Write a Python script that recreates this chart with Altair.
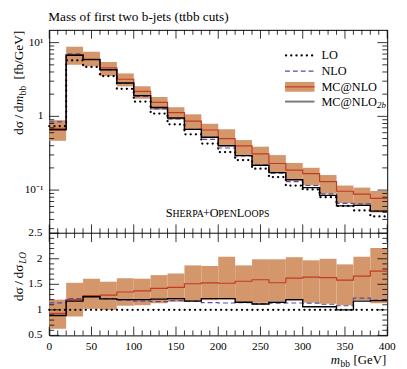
import altair as alt
import pandas as pd

# ---------------- data ----------------
bin_lo = [0, 20, 40, 60, 80, 100, 120, 140, 160, 180, 200, 220, 240, 260, 280, 300, 320, 340, 360, 380]
bin_hi = [20, 40, 60, 80, 100, 120, 140, 160, 180, 200, 220, 240, 260, 280, 300, 320, 340, 360, 380, 400]
lo_xs = [0.74, 5.76, 4.68, 3.52, 2.36, 1.59, 1.09, 0.78, 0.57, 0.427, 0.328, 0.255, 0.195, 0.150, 0.115, 0.102, 0.080, 0.061, 0.053, 0.044]
nlo_xs = [0.840, 7.03, 5.90, 4.29, 2.81, 1.86, 1.264, 0.920, 0.667, 0.487, 0.372, 0.291, 0.218, 0.170, 0.1305, 0.1153, 0.0888, 0.0659, 0.0652, 0.0524]
mcnlo_xs = [0.688, 6.91, 5.99, 4.54, 3.186, 2.178, 1.548, 1.123, 0.861, 0.653, 0.4986, 0.3978, 0.310, 0.2295, 0.1863, 0.1673, 0.1304, 0.0964, 0.0880, 0.0774]
mcnlo_band_lo = [0.466, 5.01, 4.77, 3.52, 2.55, 1.733, 1.232, 0.905, 0.667, 0.508, 0.394, 0.293, 0.222, 0.1755, 0.1357, 0.1163, 0.0896, 0.0665, 0.0631, 0.0497]
mcnlo_band_hi = [0.888, 8.81, 7.53, 5.46, 3.82, 2.56, 1.831, 1.334, 1.066, 0.794, 0.669, 0.477, 0.388, 0.2985, 0.2335, 0.2009, 0.160, 0.1153, 0.1081, 0.0972]
mcnlo2b_xs = [0.659, 6.74, 5.88, 4.28, 2.83, 1.908, 1.319, 0.952, 0.667, 0.521, 0.400, 0.293, 0.2174, 0.1725, 0.138, 0.1081, 0.0848, 0.061, 0.0620, 0.0519]

x_major_ticks = [0, 50, 100, 150, 200, 250, 300, 350, 400]
x_tick_labels = ["0", "50", "100", "150", "200", "250", "300", "350", "400"]
x_minor_ticks = [v for v in range(0, 401, 10) if v % 50 != 0]
log_major_ticks = [0.1, 1, 10]
log_tick_labels = ["10\u207b\u00b9", "1", "10\u00b9"]
log_minor_ticks = [m * 0.01 for m in range(3, 10)] + [m * 0.1 for m in range(2, 10)] + [m * 1.0 for m in range(2, 10)]
ratio_major_ticks = [0.5, 1.0, 1.5, 2.0, 2.5]
ratio_tick_labels = ["0.5", "1", "1.5", "2", "2.5"]
ratio_minor_ticks = [round(0.5 + 0.1 * i, 2) for i in range(21) if i % 5 != 0]

# ---------------- styling ----------------
FONT = "Liberation Serif"
BAND = "#d4976c"
RED = "#c43a22"
PURPLE = "#5d4aa0"
W, HT, HR = 344, 207, 104
H = HT + HR
NB = "\u00a0"
TH = "\u2009"

x_scale = alt.Scale(domain=[0, 400], nice=False, zero=False)
y_top = alt.Scale(type="log", domain=[0.026, 14.9], range=[HT, 0], nice=False)
y_rat = alt.Scale(domain=[0.5, 2.5], range=[H, HT], nice=False, zero=False)

bins = pd.DataFrame({
    "x0": bin_lo, "x1": bin_hi,
    "blo": mcnlo_band_lo, "bhi": mcnlo_band_hi,
})
bins["rblo"] = bins["blo"] / pd.Series(lo_xs)
bins["rbhi"] = bins["bhi"] / pd.Series(lo_xs)

step = pd.DataFrame({
    "x": bin_lo + [bin_hi[-1]],
    "lo": lo_xs + [lo_xs[-1]],
    "nlo": nlo_xs + [nlo_xs[-1]],
    "mc": mcnlo_xs + [mcnlo_xs[-1]],
    "mc2b": mcnlo2b_xs + [mcnlo2b_xs[-1]],
})
for c in ["lo", "nlo", "mc", "mc2b"]:
    step["r_" + c] = step[c] / step["lo"]

one = pd.DataFrame({"a": [0]})
X = lambda f: alt.X(f, scale=x_scale, axis=None)


def line(col, yscale, **style):
    return alt.Chart(step).mark_line(interpolate="step-after", **style).encode(
        x=X("x:Q"), y=alt.Y(col + ":Q", scale=yscale, axis=None))


def xticks(vals, y0, y1):
    return alt.Chart(pd.DataFrame({"v": vals})).mark_rule(color="black", strokeWidth=0.8).encode(
        x=X("v:Q"), y=alt.value(y0), y2=alt.value(y1))


def yticks(vals, yscale, x0, x1):
    return alt.Chart(pd.DataFrame({"v": vals})).mark_rule(color="black", strokeWidth=0.8).encode(
        y=alt.Y("v:Q", scale=yscale, axis=None), x=alt.value(x0), x2=alt.value(x1))


def txt(s, x, y, size=13, angle=0, align="left", baseline="alphabetic", style="normal", color="black"):
    kw = dict(text=s, font=FONT, fontSize=size, align=align, baseline=baseline, fontStyle=style, color=color)
    if angle:
        kw["angle"] = angle
    return alt.Chart(one).mark_text(**kw).encode(x=alt.value(x), y=alt.value(y))


dot_style = dict(color="black", strokeWidth=2.3, strokeDash=[0.1, 5.2], strokeCap="round")
dash_style = dict(color=PURPLE, strokeWidth=1.2, strokeDash=[5, 3])
red_style = dict(color=RED, strokeWidth=1.2)
blk_style = dict(color="black", strokeWidth=1.4)

# ---------------- top panel ----------------
top = alt.layer(
    alt.Chart(bins).mark_rect(color=BAND).encode(
        x=X("x0:Q"), x2="x1:Q", y=alt.Y("blo:Q", scale=y_top, axis=None), y2="bhi:Q"),
    line("mc", y_top, **red_style),
    line("lo", y_top, **dot_style),
    line("nlo", y_top, **dash_style),
    line("mc2b", y_top, **blk_style),
    xticks(x_major_ticks, 0, 9), xticks(x_minor_ticks, 0, 5),
    xticks(x_major_ticks, HT, HT - 9), xticks(x_minor_ticks, HT, HT - 5),
    yticks(log_major_ticks, y_top, 0, 10), yticks(log_minor_ticks, y_top, 0, 5),
    yticks(log_major_ticks, y_top, W, W - 10), yticks(log_minor_ticks, y_top, W, W - 5),
    alt.Chart(pd.DataFrame({"v": log_major_ticks, "t": log_tick_labels})).mark_text(
        font=FONT, fontSize=11.5, align="right", baseline="middle").encode(
        y=alt.Y("v:Q", scale=y_top, axis=None), x=alt.value(-6), text="t:N"),
)

# ---------------- ratio panel ----------------
bot = alt.layer(
    alt.Chart(bins).mark_rect(color=BAND).encode(
        x=X("x0:Q"), x2="x1:Q", y=alt.Y("rblo:Q", scale=y_rat, axis=None), y2="rbhi:Q"),
    line("r_mc", y_rat, **red_style),
    line("r_lo", y_rat, **dot_style),
    line("r_nlo", y_rat, **dash_style),
    line("r_mc2b", y_rat, **blk_style),
    alt.Chart(pd.DataFrame({"v": [2.5]})).mark_rule(color="black", strokeWidth=1).encode(
        y=alt.Y("v:Q", scale=y_rat, axis=None), x=alt.value(0), x2=alt.value(W)),
    xticks(x_major_ticks, HT, HT + 9), xticks(x_minor_ticks, HT, HT + 5),
    xticks(x_major_ticks, H, H - 9), xticks(x_minor_ticks, H, H - 5),
    yticks(ratio_major_ticks, y_rat, 0, 10), yticks(ratio_minor_ticks, y_rat, 0, 5),
    yticks(ratio_major_ticks, y_rat, W, W - 10), yticks(ratio_minor_ticks, y_rat, W, W - 5),
    alt.Chart(pd.DataFrame({"v": ratio_major_ticks, "t": ratio_tick_labels})).mark_text(
        font=FONT, fontSize=11.5, align="right", baseline="middle").encode(
        y=alt.Y("v:Q", scale=y_rat, axis=None), x=alt.value(-7), text="t:N"),
)

# ---------------- texts, legend ----------------
misc = [
    alt.Chart(pd.DataFrame({"v": x_major_ticks, "t": x_tick_labels})).mark_text(
        font=FONT, fontSize=11.5, align="center", baseline="alphabetic").encode(
        x=X("v:Q"), y=alt.value(326), text="t:N"),
    txt("Mass of first two b-jets (ttbb cuts)", -1, -9, size=13.5),
]

# y title (rotated, pieces with subscript); align right = top end
YT = 1
misc += [
    txt(NB + "[fb/GeV]", -27, YT, size=13.5, angle=270, align="right"),
    txt("bb", -24, YT + 56, size=9.5, angle=270, align="right"),
    txt("m", -27, YT + 66, size=13.5, angle=270, align="right", style="italic"),
    txt("d\u03c3" + TH + "/" + TH + "d", -27, YT + 76, size=13.5, angle=270, align="right"),
]
RT = 226
misc += [
    txt("LO", -24, RT, size=9.5, angle=270, align="right", style="italic"),
    txt("d\u03c3" + TH + "/" + TH + "d\u03c3", -27, RT + 13, size=13.5, angle=270, align="right"),
]
# x title (right aligned at the frame's right end)
XR = 343
misc += [
    txt(NB + "[GeV]", XR, 340, size=13, align="right"),
    txt("bb", XR - 37, 343, size=9.5, align="right"),
    txt("m", XR - 47, 340, size=13, align="right", style="italic"),
]

# Sherpa+OpenLoops in small caps
em = {"S": .556, "H": .722, "E": .611, "R": .667, "P": .556, "A": .722, "+": .564, "O": .722, "N": .722, "L": .611}
pieces = [("S", 12.5, 0), ("HERPA", 10, -1.8), ("+O", 12.5, -0.5), ("PEN", 10, 0), ("L", 12.5, 0), ("OOPS", 10, 0)]
px = 118.5
for s, sz, adj in pieces:
    misc.append(txt(s, px, 190.3, size=sz))
    px += sum(em[c] for c in s) * sz + adj

# legend
LX0, LX1, TX = 240, 270, 277
rows = [26, 42, 58, 73]
misc += [
    alt.Chart(one).mark_rule(**dot_style).encode(x=alt.value(LX0 + 1), x2=alt.value(LX1), y=alt.value(rows[0])),
    alt.Chart(one).mark_rule(**dash_style).encode(x=alt.value(LX0), x2=alt.value(LX1), y=alt.value(rows[1])),
    alt.Chart(one).mark_rect(color=BAND).encode(x=alt.value(LX0), x2=alt.value(LX1), y=alt.value(rows[2] - 5), y2=alt.value(rows[2] + 5)),
    alt.Chart(one).mark_rule(**red_style).encode(x=alt.value(LX0), x2=alt.value(LX1), y=alt.value(rows[2])),
    alt.Chart(one).mark_rule(color="#7a7a7a", strokeWidth=2).encode(x=alt.value(LX0), x2=alt.value(LX1), y=alt.value(rows[3])),
    txt("LO", TX, rows[0], size=12.5, baseline="middle"),
    txt("NLO", TX, rows[1], size=12.5, baseline="middle"),
    txt("MC@NLO", TX, rows[2], size=12.5, baseline="middle"),
    txt("MC@NLO", TX, rows[3], size=12.5, baseline="middle"),
    txt("2b", TX + 56.6, rows[3] + 4, size=9, baseline="middle", style="italic"),
]

chart = alt.layer(top, bot, *misc).resolve_scale(y="independent").properties(
    width=W, height=H,
    autosize=alt.AutoSizeParams(type="none"),
    padding={"left": 42, "top": 19, "right": 12, "bottom": 34},
).configure_view(stroke="black", strokeWidth=1)

chart.save("out.html", embed_options={"renderer": "svg", "actions": False})
